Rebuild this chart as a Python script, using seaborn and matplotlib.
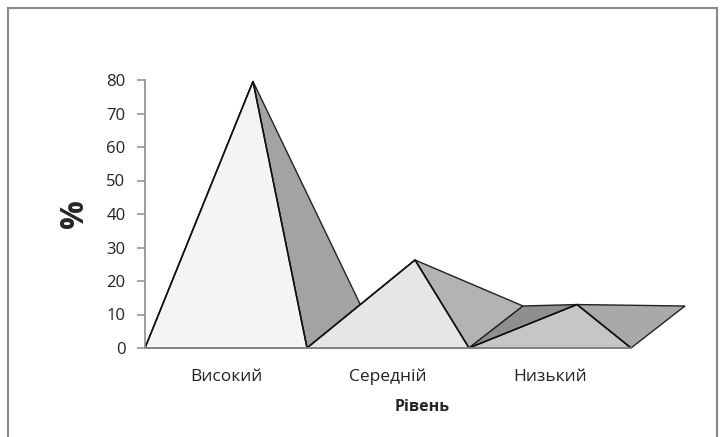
import matplotlib
matplotlib.use("Agg")
import matplotlib.pyplot as plt
import matplotlib.patches as mpatches
import seaborn as sns
import pandas as pd

# data (3D pyramid chart)
categories = ["Високий", "Середній", "Низький"]
values = [73.3, 20.0, 6.7]

front_colors = ["#f4f4f4", "#e6e6e6", "#c6c6c6"]
side_colors = ["#a3a3a3", "#b3b3b3", "#a9a9a9"]
left_colors = ["#8f8f8f", "#8f8f8f", "#8f8f8f"]

sns.set_theme(style="white")
plt.rcParams["font.family"] = ["Open Sans", "DejaVu Sans"]

W, H = 720, 437
fig = plt.figure(figsize=(W / 100, H / 100), dpi=100)
ax = fig.add_axes([145 / W, 1 - 348 / H, (700 - 145) / W, (348 - 80) / H])

ax.set_xlim(0, (700 - 145) / 162)
ax.set_ylim(0, 80)

# depth offset of the pyramid base (perspective)
dx = 1 / 3
dy = 42 * 80 / 268

for i, v in enumerate(values):
    x0, x1 = i, i + 1
    apex = (i + 0.5 + dx / 2, v + dy / 2)
    left = [(x0, 0), (x0 + dx, dy), apex]
    right = [(x1, 0), (x1 + dx, dy), apex]
    front = [(x0, 0), (x1, 0), apex]
    ax.add_patch(mpatches.Polygon(left, closed=True, facecolor=left_colors[i],
                                  edgecolor="#222222", lw=1.0, clip_on=False))
    ax.add_patch(mpatches.Polygon(right, closed=True, facecolor=side_colors[i],
                                  edgecolor="#222222", lw=1.0, clip_on=False))
    ax.add_patch(mpatches.Polygon(front, closed=True, facecolor=front_colors[i],
                                  edgecolor="#222222", lw=1.0, clip_on=False))

# front outline
xs, ys = [], []
for i, v in enumerate(values):
    xs += [i, i + 0.5 + dx / 2]
    ys += [0, v + dy / 2]
xs.append(len(values))
ys.append(0)
outline = pd.DataFrame({"x": xs, "y": ys})
sns.lineplot(data=outline, x="x", y="y", sort=False, color="#111111", lw=1.1, ax=ax)

# axes styling
sns.despine(ax=ax, right=True, top=True)
for s in ["left", "bottom"]:
    ax.spines[s].set_color("#8c8c8c")
    ax.spines[s].set_linewidth(1.2)
ax.spines["bottom"].set_bounds(0, 3)
ax.set_yticks(range(0, 81, 10))
ax.tick_params(axis="y", which="both", left=True, length=6, width=1.1,
               color="#8c8c8c", labelsize=12, pad=8, labelcolor="#222222")
ax.set_xticks([i + 0.5 for i in range(len(categories))])
ax.set_xticklabels(categories)
ax.tick_params(axis="x", bottom=False, labelsize=12.5, pad=9, labelcolor="#222222")

ax.set_xlabel("Рівень", fontsize=11.5, fontweight="bold", labelpad=10)
ax.set_ylabel("%", fontsize=23, fontweight="bold", labelpad=11)
ax.grid(False)

# outer chart frame
fig.patches.append(mpatches.Rectangle((8 / W, -0.1), (717 - 8) / W, 1 - 8 / H + 0.1,
                                      transform=fig.transFigure, fill=False,
                                      edgecolor="#888888", lw=1.5))

fig.savefig("out.png", dpi=100)
